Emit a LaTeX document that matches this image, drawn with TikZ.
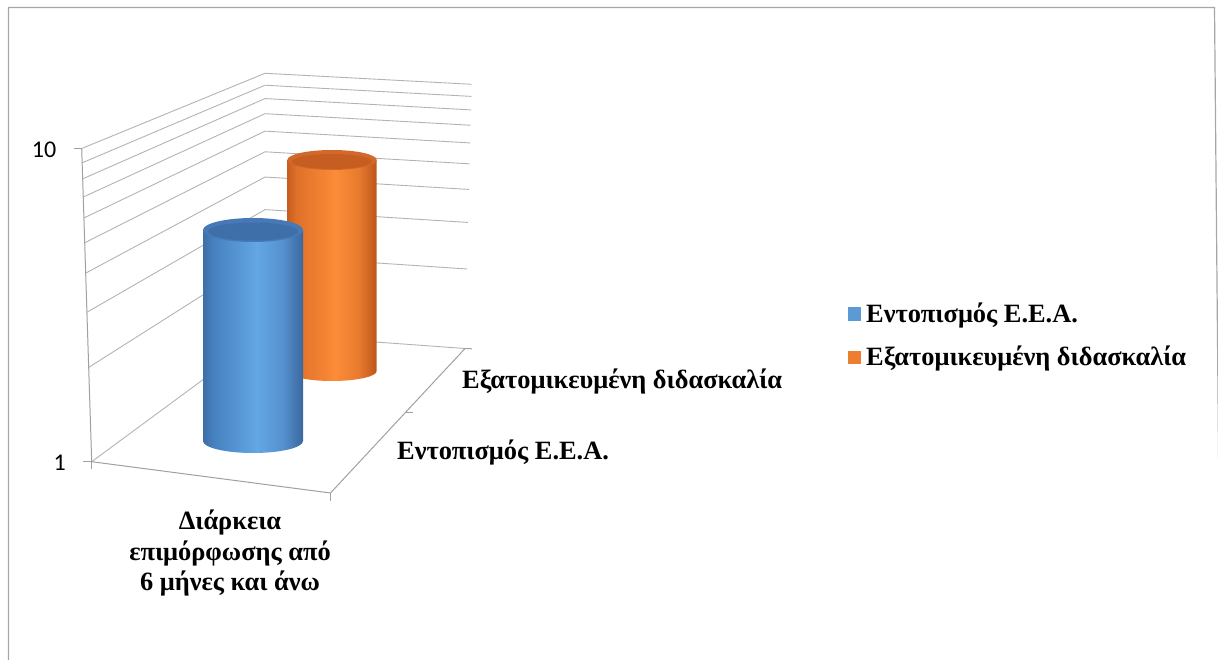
\documentclass[tikz,border=0pt]{standalone}
\usepackage{fontspec}
\setmainfont{Liberation Serif}
\newfontfamily\numfont{Carlito}

% series colours
\definecolor{blueA}{HTML}{3D6FA8}
\definecolor{blueB}{HTML}{4680BF}
\definecolor{blueC}{HTML}{63A7E4}
\definecolor{blueD}{HTML}{5590CF}
\definecolor{blueE}{HTML}{3A689D}
\definecolor{blueTop}{HTML}{4779B8}
\definecolor{blueKey}{HTML}{5B9BD5}
\definecolor{orangeA}{HTML}{C65E1E}
\definecolor{orangeB}{HTML}{DF7029}
\definecolor{orangeC}{HTML}{FC8C38}
\definecolor{orangeD}{HTML}{E87A2E}
\definecolor{orangeE}{HTML}{BD561A}
\definecolor{orangeTop}{HTML}{D2692A}
\definecolor{orangeKey}{HTML}{ED7D31}
\definecolor{gridgray}{HTML}{B3B3B3}
\definecolor{axisgray}{HTML}{A0A0A0}
\definecolor{framegray}{HTML}{A6A6A6}

% side shading of the cylinders (path spans 25bp..75bp)
\pgfdeclarehorizontalshading{bluebody}{100bp}{%
  color(0bp)=(blueA); color(25bp)=(blueA); color(30bp)=(blueB);
  color(52bp)=(blueC); color(65bp)=(blueD); color(75bp)=(blueE); color(100bp)=(blueE)}
\pgfdeclarehorizontalshading{orangebody}{100bp}{%
  color(0bp)=(orangeA); color(25bp)=(orangeA); color(30bp)=(orangeB);
  color(52bp)=(orangeC); color(65bp)=(orangeD); color(75bp)=(orangeE); color(100bp)=(orangeE)}

\tikzset{
  grid/.style={draw=gridgray, line width=0.9pt},
  axisline/.style={draw=axisgray, line width=1pt},
  ticknum/.style={font=\numfont\fontsize{24}{26}\selectfont, anchor=east, inner sep=0pt},
  catlabel/.style={font=\bfseries\fontsize{26.4}{30.5}\selectfont, inner sep=0pt},
  keybox/.style={minimum width=13pt, minimum height=13pt, inner sep=0pt},
}

\begin{document}
\begin{tikzpicture}[x=1pt,y=-1pt]
\useasboundingbox (0,0) rectangle (1218,660);

% outer frame
\draw[framegray, line width=1.2pt] (8.5,700) -- (8.5,7.5) -- (1214.5,7.5) -- (1219.5,560);

% walls: logarithmic gridlines 1..10 on side wall and back wall
\foreach \k in {1,...,10}{
  \pgfmathsetmacro\v{ln(\k)/ln(10)}
  \draw[grid] (91.7-10*\v, 461.7-313.2*\v) -- (265, 334-260.7*\v) -- (465+6.7*\v, 348.5-264.2*\v);
}

% chart corners
\coordinate (vtop) at (81.7,148.5);
\coordinate (vbot) at (91.7,461.7);
\coordinate (ffront) at (330.5,493);
\coordinate (fback) at (465,348.5);
\coordinate (dmid) at (405.3,412.7);

% axes
\draw[axisline] (vtop) -- (vbot) -- (ffront) -- (fback);
% ticks
\draw[axisline] (vtop) -- ++(-8,0);
\draw[axisline] (vbot) -- ++(-8.5,0);
\draw[axisline] (vbot) -- ++(0,7.5);
\draw[axisline] (ffront) -- ++(0,7.5);
\draw[axisline] (fback) -- ++(7,0.3);
\draw[axisline] (dmid) -- ++(7.5,0);

% value labels
\node[ticknum] (ten) at (56.5,149.5) {10};
\node[ticknum] (one) at (66,463) {1};

% orange cylinder (rear row)
\path[shading=orangebody] (287.3,160) -- (287.3,371) arc[start angle=180, end angle=0, x radius=44.7, y radius=10] -- (376.7,160) -- cycle;
\fill[orangeTop] (332,160) ellipse[x radius=44.7, y radius=10];
\fill[orangeE!60!orangeTop] (332,161.5) ellipse[x radius=40, y radius=7.5];

% blue cylinder (front row)
\path[shading=bluebody] (203,230) -- (203,441) arc[start angle=180, end angle=0, x radius=50, y radius=12] -- (303,230) -- cycle;
\fill[blueTop] (253,230) ellipse[x radius=50, y radius=12];
\fill[blueE!60!blueTop] (253,231.5) ellipse[x radius=45, y radius=9];

% category labels
\node[catlabel, anchor=west] (rowB) at (462,381) {Εξατομικευμένη διδασκαλία};
\node[catlabel, anchor=west] (rowA) at (397,452) {Εντοπισμός Ε.Ε.Α.};
\node[catlabel, align=center] (col) at (230,553) {Διάρκεια\\επιμόρφωσης από\\6 μήνες και άνω};

% legend
\node[keybox, fill=blueKey] (keyA) at (854,314) {};
\node[keybox, fill=orangeKey] (keyB) at (854,357) {};
\node[catlabel, anchor=west] (keyAtext) at (866,316) {Εντοπισμός Ε.Ε.Α.};
\node[catlabel, anchor=west] (keyBtext) at (866,358) {Εξατομικευμένη διδασκαλία};
\end{tikzpicture}
\end{document}
